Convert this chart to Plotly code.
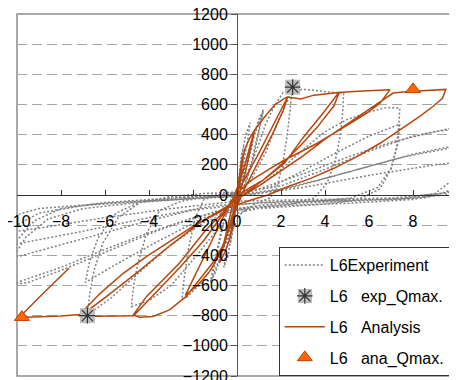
import plotly.graph_objects as go

# ---------------- data ----------------
exp_x = [0, 0.1, 0.2, 0.3, 0.2, 0.05,
         -0.1, -0.2, -0.3, -0.2, -0.05, 0.05,
         0.2, 0.4, 0.6, 0.45, 0.2, 0.0,
         -0.2, -0.4, -0.6, -0.45, -0.2, 0.0,
         0.3, 0.7, 1.0, 1.2, 1.0, 0.7, 0.3, 0.0,
         -0.3, -0.7, -1.0, -1.2, -1.0, -0.7, -0.3, 0.0,
         0.4, 0.8, 1.2, 1.0, 0.6, 0.2,
         -0.3, -0.8, -1.2, -0.95, -0.6, -0.2,
         0.4, 0.9, 1.3, 1.7, 2.1, 2.53,
         2.45, 2.3, 2.1, 1.8, 1.5, 0.8, 0.2,
         -0.4, -1.0, -1.6, -2.3, -2.5,
         -2.4, -2.2, -1.9, -1.5, -0.8, 0.0,
         0.6, 1.3, 1.9, 2.5, 3.0, 3.5, 4.0, 4.85,
         4.8, 4.7, 4.5, 4.1, 3.5, 2.5, 1.2, 0.0,
         -1.0, -2.0, -3.0, -4.0, -4.8,
         -4.7, -4.5, -4.1, -3.5, -2.5, -1.2, 0.0,
         1.0, 2.0, 3.0, 4.0, 5.0, 6.0, 6.8, 7.4,
         7.35, 7.25, 7.0, 6.5, 5.5, 4.0, 2.0, 0.0,
         -1.5, -3.0, -4.5, -5.7, -6.8,
         -6.7, -6.5, -6.1, -5.4, -4.4, -3.0, -1.5, 0.0,
         1.5, 3.0, 4.5, 6.0, 7.4,
         7.3, 7.0, 6.4, 5.2, 3.0, 1.0,
         -1.5, -3.5, -5.5, -6.9,
         -6.7, -6.3, -5.5, -4.3, -2.5, 0.0,
         2.0, 4.0, 6.0, 8.0, 10.0, 12.0,
         11.5, 10.5, 9.5, 8.0, 5.0, 2.0, 0.0,
         -2.0, -4.0, -6.0, -8.0, -10.0, -11.0,
         -10.6, -10.0, -9.2, -8.0, -6.0, -3.0, 0.0,
         1.0, 3.0, 5.0, 7.0, 9.0, 11.0,
         10.6, 9.8, 9.0, 7.5, 4.5, 1.5,
         -1.0, -3.5, -6.0, -8.0, -9.5, -10.5,
         -10.2, -9.6, -8.6, -7.0, -4.5, -2.0, 0.0,
         2.0, 4.0, 6.0, 8.0, 10.0, 12.0,
         11.5, 10.5, 9.5, 7.0, 4.0, 1.0,
         -2.0, -4.0, -6.0, -8.0, -10.0, -11.0,
         -10.6, -10.0, -9.0, -7.0, -4.0, 0.0,
         2.5, 5.0, 7.5, 10.0, 12.0,
         11.4, 10.4, 8.5, 5.0, 2.0,
         -1.0, -4.0, -7.0, -10.0, -12.0,
         -11.5, -10.5, -9.0, -6.0, -3.0, 0.0,
         3.0, 6.0, 9.0, 12.0,
         11.5, 10.0, 7.0, 3.0, 0.0,
         -3.0, -6.0, -9.0, -12.0]
exp_y = [0, 150, 260, 320, 200, 30,
         -120, -250, -320, -200, -30, 40,
         250, 400, 480, 330, 120, 0,
         -200, -400, -480, -330, -120, 0,
         150, 380, 500, 560, 420, 220, 30, -40,
         -200, -400, -520, -570, -430, -220, -40, 20,
         160, 400, 570, 440, 180, 0,
         -180, -420, -580, -420, -180, 0,
         120, 300, 470, 590, 680, 718,
         600, 420, 220, 40, -20, -60, -120,
         -280, -450, -580, -680, -690,
         -550, -350, -150, -30, 0, 20,
         90, 280, 500, 690, 700, 695, 685, 675,
         540, 400, 250, 80, -20, -60, -80, -120,
         -250, -430, -600, -700, -740,
         -600, -450, -250, -100, -40, -10, 10,
         60, 170, 300, 420, 500, 550, 580, 575,
         450, 320, 170, 40, -30, -60, -80, -100,
         -180, -330, -520, -680, -795,
         -660, -500, -320, -150, -50, -10, 10, 20,
         50, 160, 280, 390, 470,
         330, 180, 50, -20, -50, -70,
         -150, -300, -460, -580,
         -440, -280, -120, -40, -15, 10,
         60, 170, 290, 390, 450, 470,
         300, 120, 20, -30, -55, -70, -90,
         -150, -250, -360, -480, -580, -620,
         -450, -300, -170, -90, -50, -20, 0,
         40, 140, 250, 350, 420, 460,
         280, 100, 10, -25, -45, -60,
         -110, -230, -380, -500, -580, -600,
         -420, -280, -160, -90, -50, -20, 0,
         40, 110, 190, 270, 330, 370,
         200, 60, 0, -30, -40, -50,
         -100, -170, -250, -330, -410, -440,
         -300, -200, -120, -70, -40, -10,
         50, 150, 250, 320, 350,
         180, 50, -20, -35, -45,
         -70, -150, -240, -330, -380,
         -250, -150, -90, -55, -30, -10,
         50, 130, 200, 250,
         120, 20, -20, -30, -40,
         -90, -150, -220, -280]

ana_x = [0, 0.1, 0.2, 0.3, 0.15, 0.0,
         -0.1, -0.2, -0.3, -0.15, 0.0,
         0.15, 0.35, 0.55, 0.8, 0.6, 0.35, 0.1,
         -0.15, -0.35, -0.55, -0.8, -0.6, -0.35, -0.1,
         0.3, 0.8, 1.26, 1.71, 2.16, 2.3,
         2.1, 1.6, 1.0, 0.5, 0.2,
         -0.2, -0.6, -1.2, -1.8, -2.35,
         -2.0, -1.4, -0.8, -0.3, 0.0,
         0.3, 1.0, 1.7, 2.3, 2.9, 3.5, 4.1, 4.65,
         4.4, 3.65, 2.9, 2.0, 1.2, 0.5, 0.2,
         -0.07, -0.37, -0.67, -1.12, -1.72, -2.32, -3.07, -3.82, -4.42, -4.72,
         -4.12, -3.37, -2.62, -2.02, -1.42, -0.82, -0.22, 0.2,
         0.5, 1.2, 2.16, 3.0, 3.9, 4.63, 5.5, 6.3, 6.95,
         6.5, 5.9, 5.15, 4.4, 3.65, 2.9, 2.16, 1.41, 0.66, 0.2, 0.0,
         -0.5, -1.5, -2.6, -3.7, -4.7, -5.5, -6.4, -7.2,
         -7.0, -6.22, -5.17, -4.12, -3.07, -2.02, -1.12, -0.22, 0.3,
         1.0, 2.0, 3.0, 4.0, 5.0, 6.0, 7.1, 7.8, 8.6, 9.49,
         9.34, 8.89, 8.29, 7.39, 6.5, 5.45, 4.4, 3.35, 2.3, 1.4, 0.5,
         -0.5, -1.7, -3.0, -4.5, -6.0, -7.0, -8.0, -9.0, -9.9,
         -9.0, -8.3, -7.64]
ana_y = [0, 120, 220, 270, 100, -20,
         -130, -220, -270, -100, 20,
         160, 300, 370, 430, 300, 130, 0,
         -150, -300, -380, -450, -320, -150, 0,
         170, 431, 519, 597, 641, 650,
         560, 400, 230, 90, 0,
         -130, -340, -500, -600, -665,
         -560, -380, -200, -50, 20,
         90, 280, 480, 650, 636, 662, 672, 680,
         590, 450, 330, 200, 100, 20, -10,
         -99, -232, -342, -453, -564, -674, -762, -806, -811, -796,
         -674, -564, -453, -343, -232, -144, -55, 10,
         40, 100, 210, 380, 540, 680, 688, 693, 697,
         608, 542, 475, 409, 343, 287, 232, 166, 99, 40, 0,
         -100, -300, -480, -650, -800, -802, -804, -800,
         -770, -652, -519, -409, -309, -210, -133, -55, 0,
         60, 160, 260, 370, 470, 570, 676, 686, 693, 700,
         641, 585, 519, 431, 343, 254, 177, 110, 55, 0, -40,
         -90, -185, -330, -510, -680, -790, -803, -807, -812,
         -680, -580, -486]

expq_x = [2.53, -6.8]
expq_y = [715, -800]
anaq_x = [8.0, -9.78]
anaq_y = [700, -810]

x_ticks = [-10, -8, -6, -4, -2, 0, 2, 4, 6, 8, 10]
y_ticks = [-1200, -1000, -800, -600, -400, -200, 0, 200, 400, 600, 800, 1000, 1200]

FONT = "Liberation Sans, Arial, sans-serif"

fig = go.Figure()
fig.add_trace(go.Scatter(x=exp_x, y=exp_y, mode="lines", name="L6Experiment",
                         line=dict(color="#808080", width=1.5, dash="2px,2px"),
                         legendrank=1, legendgroup="g1"))
fig.add_trace(go.Scatter(x=ana_x, y=ana_y, mode="lines", name="L6\u00a0\u00a0\u00a0Analysis",
                         line=dict(color="#B5470F", width=1.5),
                         legendrank=3, legendgroup="g3"))
fig.add_trace(go.Scatter(x=expq_x, y=expq_y, mode="markers", showlegend=False,
                         marker=dict(symbol="square", size=15, color="#BDBDBD",
                                     line=dict(width=0)),
                         cliponaxis=False))
fig.add_trace(go.Scatter(x=expq_x, y=expq_y, mode="markers", name="L6\u00a0\u00a0\u00a0exp_Qmax.",
                         marker=dict(symbol="asterisk-open", size=13, color="#333333",
                                     line=dict(width=1.2, color="#333333")),
                         cliponaxis=False, legendrank=2, legendgroup="g2"))
fig.add_trace(go.Scatter(x=anaq_x, y=anaq_y, mode="markers", name="L6\u00a0\u00a0\u00a0ana_Qmax.",
                         marker=dict(symbol="triangle-up", size=13, color="#FF6600",
                                     line=dict(width=1, color="#C04000")),
                         cliponaxis=False, legendrank=4, legendgroup="g4"))

# legend decoration: white backing for the (transparent) legend, and the grey
# square that sits behind the asterisk legend glyph
lg_cx, lg_cy = 0.6545, 0.221
lg_dx, lg_dy = 7 / 440, 7 / 362

fig.update_layout(
    width=449, height=372,
    margin=dict(l=9, r=0, t=6, b=4, autoexpand=False),
    paper_bgcolor="white", plot_bgcolor="white",
    font=dict(family=FONT, size=16, color="black"),
    showlegend=True,
    legend=dict(x=0.595, y=0.356, xanchor="left", yanchor="top",
                bgcolor="rgba(255,255,255,0)", bordercolor="#333333", borderwidth=1,
                font=dict(family=FONT, size=16, color="black"),
                itemwidth=40, tracegroupgap=7, traceorder="grouped"),
    xaxis=dict(range=[-10, 10], tickvals=x_ticks, anchor="free", position=0.5,
               automargin=False, ticklabeloverflow="allow",
               showline=True, linecolor="#333333", linewidth=1,
               ticks="inside", ticklen=5, tickcolor="#333333",
               showgrid=False, zeroline=False, ticklabelstandoff=12,
               tickfont=dict(family=FONT, size=16, color="black")),
    yaxis=dict(range=[-1200, 1200], tickvals=y_ticks, anchor="free", position=0.5,
               automargin=False, ticklabeloverflow="allow",
               showline=True, linecolor="#555555", linewidth=1,
               ticks="outside", ticklen=6, tickcolor="#555555",
               showgrid=True, gridcolor="#A6A6A6", gridwidth=1, griddash="10px,5px",
               zeroline=False,
               tickfont=dict(family=FONT, size=16, color="black")),
    shapes=[
        dict(type="rect", xref="paper", yref="paper", x0=0, x1=1, y0=0, y1=1,
             line=dict(color="#8C8C8C", width=1.5), layer="below"),
        dict(type="rect", xref="paper", yref="paper", x0=0.596, x1=0.978, y0=0.01, y1=0.354,
             fillcolor="white", line=dict(width=0), layer="above"),
        dict(type="rect", xref="paper", yref="paper",
             x0=lg_cx - lg_dx, x1=lg_cx + lg_dx, y0=lg_cy - lg_dy, y1=lg_cy + lg_dy,
             fillcolor="#BDBDBD", line=dict(width=0), layer="above"),
    ],
)

fig.write_html("out.html")
